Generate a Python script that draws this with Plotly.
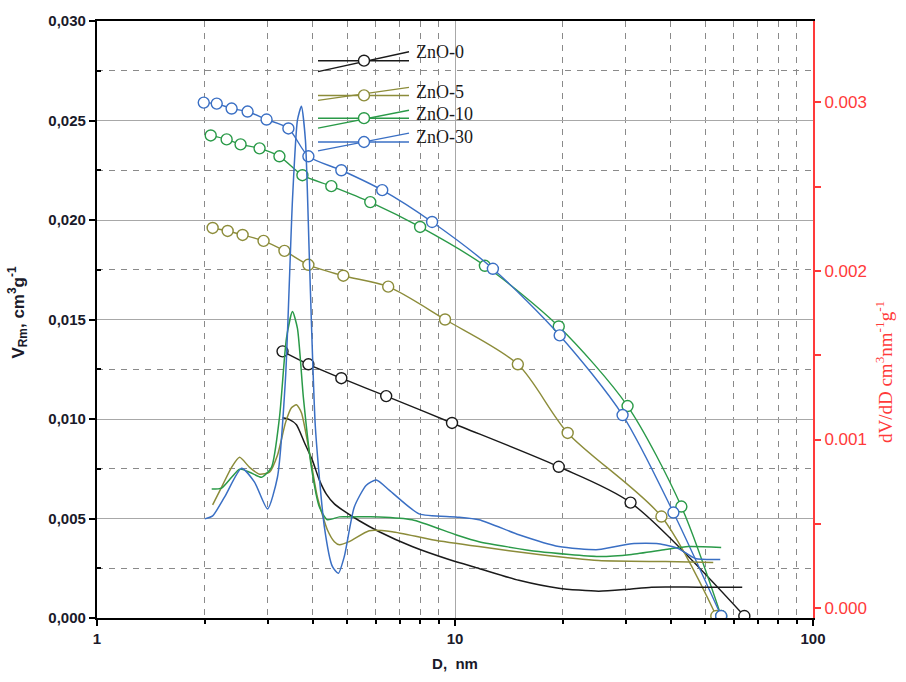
import plotly.graph_objects as go

# ---------------- data ----------------
series_names = ["ZnO-0", "ZnO-5", "ZnO-10", "ZnO-30"]
colors = {"ZnO-0": "#1a1a1a", "ZnO-5": "#8c8c3a", "ZnO-10": "#2a9a48", "ZnO-30": "#3a6fc4"}

# cumulative pore volume (left axis)
cum_D_0 = [3.298, 3.895, 4.814, 6.424, 9.81, 19.49, 30.93, 64.3]
cum_V_0 = [0.0134, 0.01275, 0.01205, 0.01115, 0.0098, 0.0076, 0.0058, 0.0001]

cum_D_5 = [2.104, 2.317, 2.551, 2.919, 3.339, 3.895, 4.876, 6.508, 9.38, 14.98, 20.64, 37.72, 53.7]
cum_V_5 = [0.0196, 0.01945, 0.01925, 0.01895, 0.01845, 0.01775, 0.0172, 0.01665, 0.0150, 0.01275, 0.0093, 0.0051, 0.0001]

cum_D_10 = [2.078, 2.302, 2.518, 2.845, 3.233, 3.748, 4.514, 5.799, 7.99, 12.12, 19.49, 30.34, 42.88, 55.4]
cum_V_10 = [0.02425, 0.02405, 0.0238, 0.0236, 0.0232, 0.02225, 0.0217, 0.0209, 0.01965, 0.0177, 0.01465, 0.01065, 0.0056, 0.0001]

cum_D_30 = [1.987, 2.160, 2.377, 2.634, 2.976, 3.425, 3.895, 4.814, 6.262, 8.63, 12.76, 19.61, 29.38, 40.74, 55.4]
cum_V_30 = [0.0259, 0.02585, 0.0256, 0.02545, 0.02505, 0.0246, 0.0232, 0.0225, 0.0215, 0.0199, 0.01755, 0.0142, 0.0102, 0.0053, 0.0001]

# differential distribution dV/dD (right axis)
dist_D_0 = [3.298, 3.449, 3.607, 3.796, 3.997, 4.180, 4.372, 4.603, 4.845, 5.403, 6.143, 7.590, 9.62, 11.67, 15.08, 19.49, 25.18, 30.52, 35.38, 47.83, 63.43]
dist_R_0 = [0.001129, 0.001118, 0.001088, 0.000982, 0.000876, 0.000759, 0.000676, 0.000618, 0.000582, 0.000518, 0.000453, 0.000365, 0.000288, 0.000235, 0.000165, 0.000118, 0.000100, 0.000112, 0.000124, 0.000124, 0.000124]

dist_D_5 = [2.104, 2.229, 2.377, 2.502, 2.668, 2.845, 3.034, 3.192, 3.362, 3.493, 3.607, 3.724, 3.920, 4.126, 4.400, 4.603, 4.753, 5.067, 5.760, 6.676, 8.630, 11.67, 17.14, 25.18, 38.71, 52.64]
dist_R_5 = [0.000612, 0.000718, 0.000835, 0.000894, 0.000835, 0.000794, 0.000806, 0.000906, 0.001100, 0.001188, 0.001206, 0.001159, 0.000924, 0.000659, 0.000465, 0.000394, 0.000376, 0.000394, 0.000459, 0.000453, 0.000406, 0.000365, 0.000318, 0.000282, 0.000276, 0.000271]

dist_D_10 = [2.091, 2.229, 2.377, 2.502, 2.668, 2.881, 3.072, 3.233, 3.382, 3.516, 3.630, 3.772, 3.971, 4.180, 4.400, 4.753, 5.166, 6.143, 7.590, 10.06, 11.67, 17.14, 25.18, 31.12, 38.71, 44.86, 55.4]
dist_R_10 = [0.000706, 0.000712, 0.000776, 0.000824, 0.000806, 0.000776, 0.000835, 0.001129, 0.001600, 0.001759, 0.001659, 0.001247, 0.000835, 0.000600, 0.000524, 0.000541, 0.000541, 0.000541, 0.000524, 0.000435, 0.000394, 0.000335, 0.000306, 0.000318, 0.000347, 0.000365, 0.000359]

dist_D_30 = [2.000, 2.104, 2.273, 2.534, 2.754, 2.995, 3.192, 3.362, 3.516, 3.630, 3.724, 3.821, 3.920, 4.074, 4.316, 4.544, 4.722, 4.907, 5.233, 5.652, 6.026, 6.549, 7.939, 10.06, 11.67, 15.08, 19.49, 25.18, 31.12, 37.01, 42.07, 46.92, 55.07]
dist_R_30 = [0.000529, 0.000547, 0.000659, 0.000829, 0.000747, 0.000588, 0.000776, 0.001365, 0.002424, 0.002894, 0.002976, 0.002776, 0.002071, 0.001071, 0.000482, 0.000247, 0.000206, 0.000306, 0.000600, 0.000729, 0.000759, 0.000700, 0.000559, 0.000541, 0.000524, 0.000435, 0.000365, 0.000347, 0.000382, 0.000382, 0.000353, 0.000294, 0.000288]

cum = {"ZnO-0": (cum_D_0, cum_V_0), "ZnO-5": (cum_D_5, cum_V_5),
       "ZnO-10": (cum_D_10, cum_V_10), "ZnO-30": (cum_D_30, cum_V_30)}
dist = {"ZnO-0": (dist_D_0, dist_R_0), "ZnO-5": (dist_D_5, dist_R_5),
        "ZnO-10": (dist_D_10, dist_R_10), "ZnO-30": (dist_D_30, dist_R_30)}

left_ticks = [0.0, 0.005, 0.010, 0.015, 0.020, 0.025, 0.030]
left_ticktext = ["0,000", "0,005", "0,010", "0,015", "0,020", "0,025", "0,030"]
right_ticks = [0.0, 0.001, 0.002, 0.003]
right_ticktext = ["0.000", "0.001", "0.002", "0.003"]
x_ticks = [1, 10, 100]
x_minor = [2, 3, 4, 5, 6, 7, 8, 9, 20, 30, 40, 50, 60, 70, 80, 90]

# ---------------- figure ----------------
W, H = 906, 682
L, R, T, B = 97, 813, 20, 622

def pxx(x):
    return (x - L) / (R - L)

def pyy(y):
    return (B - y) / (B - T)

fig = go.Figure()

for name in series_names:
    d, r = dist[name]
    fig.add_trace(go.Scatter(x=d, y=r, yaxis="y2", mode="lines",
                             line=dict(color=colors[name], width=1.5, shape="spline", smoothing=0.6),
                             showlegend=False, hoverinfo="skip"))

for name in series_names:
    d, v = cum[name]
    fig.add_trace(go.Scatter(x=d, y=v, mode="lines+markers",
                             line=dict(color=colors[name], width=1.4, shape="spline", smoothing=0.8),
                             marker=dict(symbol="circle", size=11, color="white",
                                         line=dict(color=colors[name], width=1.4)),
                             showlegend=False, hoverinfo="skip"))

grid_solid = "#a8a8a8"
grid_dash = "#8a8a8a"

fig.update_layout(
    width=W, height=H,
    margin=dict(l=L, r=W - R, t=T, b=H - B),
    paper_bgcolor="white", plot_bgcolor="white",
    showlegend=False,
    xaxis=dict(
        type="log", range=[0, 2],
        tickvals=x_ticks, ticktext=["1", "10", "100"],
        tickfont=dict(family="Liberation Sans, Arial", size=15, color="#1a1a2a", weight="bold"),
        ticks="outside", ticklen=6, tickcolor="black", tickwidth=1.5,
        showline=True, linecolor="black", linewidth=2, mirror=True,
        showgrid=True, gridcolor=grid_solid, gridwidth=1.3,
        minor=dict(tickvals=x_minor, ticks="outside", ticklen=4, tickcolor="black",
                   showgrid=True, gridcolor=grid_dash, gridwidth=1.2, griddash="6px,6px"),
        zeroline=False,
        title=dict(text="D,  nm", font=dict(family="Liberation Sans, Arial", size=15, color="#1a1a2a", weight="bold"),
                   standoff=12),
    ),
    yaxis=dict(
        range=[0, 0.030],
        tickvals=left_ticks, ticktext=left_ticktext,
        tickfont=dict(family="Liberation Sans, Arial", size=15, color="#1a1a2a", weight="bold"),
        ticks="outside", ticklen=6, tickcolor="black", tickwidth=1.5,
        showline=True, linecolor="black", linewidth=2.2, mirror=False,
        showgrid=True, gridcolor=grid_solid, gridwidth=1.3,
        minor=dict(tickvals=[0.0025, 0.0075, 0.0125, 0.0175, 0.0225, 0.0275], ticks="inside", ticklen=4,
                   tickcolor="black", showgrid=True, gridcolor=grid_dash, gridwidth=1.2, griddash="6px,6px"),
        zeroline=False,
    ),
    yaxis2=dict(
        overlaying="y", side="right",
        range=[-10 / 170000, 592 / 170000],
        tickvals=right_ticks, ticktext=right_ticktext,
        tickfont=dict(family="Liberation Sans, Arial", size=17, color="#ff3a3a"),
        ticks="outside", ticklen=6, tickcolor="#ff3a3a", tickwidth=1.5,
        showline=True, linecolor="#ff3a3a", linewidth=2,
        showgrid=False, zeroline=False,
        minor=dict(tickvals=[0.0005, 0.0015, 0.0025], ticks="outside", ticklen=6,
                   tickcolor="#ff3a3a", showgrid=False),
    ),
)

# axis titles as annotations
fig.add_annotation(xref="paper", yref="paper", x=pxx(18), y=pyy(314), textangle=-90,
                   text="V<sub>Rm</sub>, cm<sup>3</sup>g<sup>-1</sup>", showarrow=False,
                   font=dict(family="Liberation Sans, Arial", size=17, color="#1a1a2a", weight="bold"),
                   xanchor="center", yanchor="middle")
fig.add_annotation(xref="paper", yref="paper", x=pxx(884), y=pyy(374), textangle=-90,
                   text="dV/dD cm<sup>3</sup>nm<sup>-1</sup>g<sup>-1</sup>", showarrow=False,
                   font=dict(family="Liberation Serif, Times New Roman", size=19, color="#ff3a3a"),
                   xanchor="center", yanchor="middle")

# custom legend (drawn in paper coordinates)
legend_rows = [
    ("ZnO-0", 60, 71, 51, 51),
    ("ZnO-5", 95, 100, 87, 92),
    ("ZnO-10", 118, 128, 110, 114),
    ("ZnO-30", 142, 151, 133, 137),
]
for name, yh, yd0, yd1, yt in legend_rows:
    c = colors[name]
    fig.add_shape(type="line", xref="paper", yref="paper", x0=pxx(318), x1=pxx(409), y0=pyy(yh), y1=pyy(yh),
                  line=dict(color=c, width=1.5))
    fig.add_shape(type="line", xref="paper", yref="paper", x0=pxx(318), x1=pxx(409), y0=pyy(yd0), y1=pyy(yd1),
                  line=dict(color=c, width=1.3))
    fig.add_shape(type="circle", xref="paper", yref="paper", x0=pxx(358.5), x1=pxx(369.5),
                  y0=pyy(yh + 5.5), y1=pyy(yh - 5.5), fillcolor="white", line=dict(color=c, width=1.4))
    fig.add_annotation(xref="paper", yref="paper", x=pxx(414), y=pyy(yt), text=name, showarrow=False,
                       xanchor="left", yanchor="middle",
                       font=dict(family="Liberation Serif, Times New Roman", size=18, color="#1a1a1a"))

fig.write_html("out.html")
